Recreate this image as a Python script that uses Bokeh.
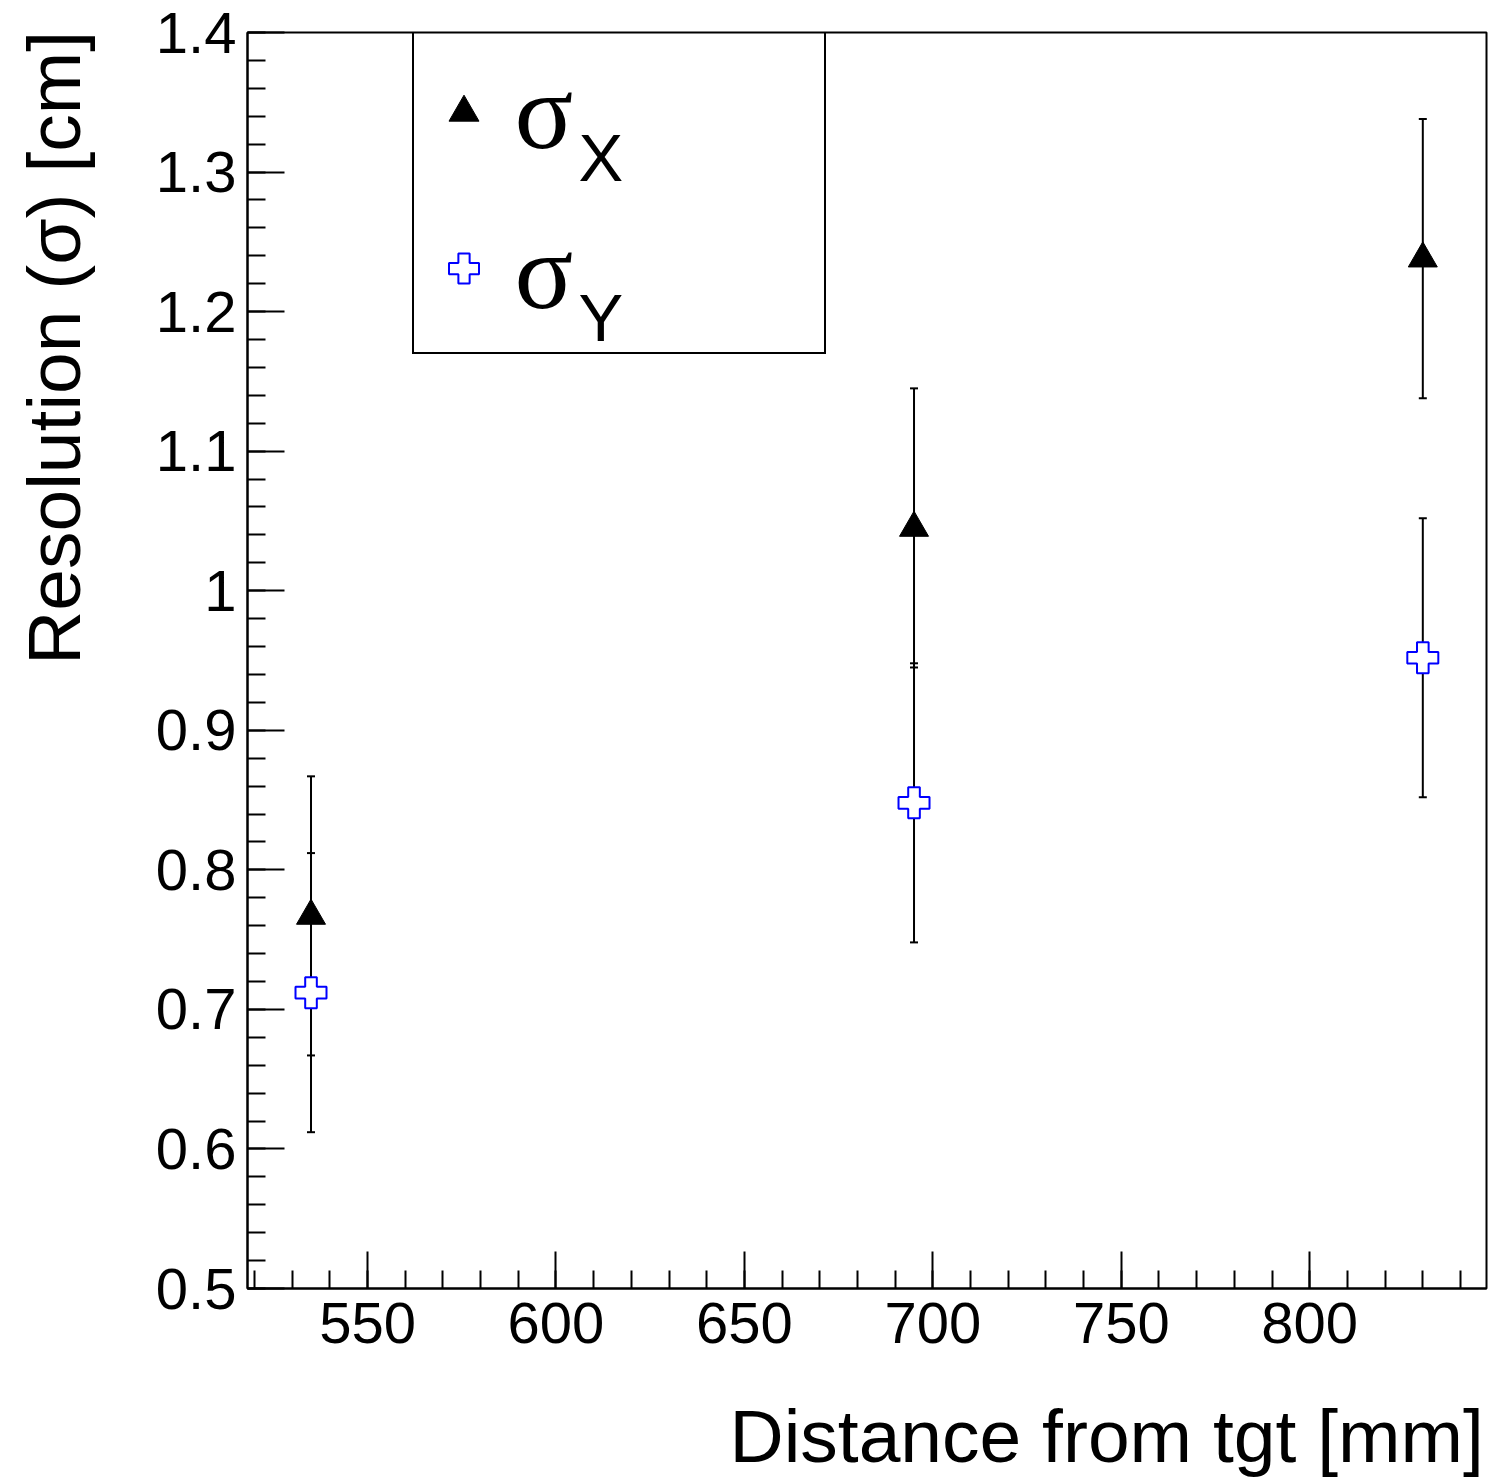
import math
from bokeh.plotting import figure
from bokeh.models import (Range1d, FixedTicker, CustomJSTickFormatter, Label,
                          Legend, LegendItem, ColumnDataSource)
from bokeh.embed import file_html
from bokeh.resources import INLINE

# ---- data ----
distance = [535, 695, 830]
sigma_x = [0.767, 1.045, 1.238]
sigma_x_err = [0.1, 0.1, 0.1]
sigma_y = [0.712, 0.848, 0.952]
sigma_y_err = [0.1, 0.1, 0.1]

x_major_ticks = [550, 600, 650, 700, 750, 800]
x_minor_ticks = list(range(520, 850, 10))
y_major_ticks = [0.5, 0.6, 0.7, 0.8, 0.9, 1.0, 1.1, 1.2, 1.3, 1.4]
y_minor_ticks = [round(0.5 + 0.02 * i, 2) for i in range(46)]

x_title = "Distance from tgt [mm]"
y_title = "Resolution (\u03c3) [cm]"
legend_names = ["X", "Y"]

# frame geometry (canvas pixels)
FL, FR, FT, FB = 247, 1486, 32, 1288
W, H = 1498, 1482

p = figure(width=W, height=H,
           x_range=Range1d(518.15, 846.9), y_range=Range1d(0.5, 1.4),
           output_backend="svg", toolbar_location=None,
           min_border_left=FL, min_border_right=W - FR,
           min_border_top=FT, min_border_bottom=H - FB)
p.grid.visible = False
p.background_fill_color = "white"
p.border_fill_color = "white"
p.outline_line_color = "black"
p.outline_line_width = 2
p.outline_line_alpha = 1

SANS = "Liberation Sans"
SERIF = "Liberation Serif"

for ax in (p.xaxis[0], p.yaxis[0]):
    ax.axis_line_width = 2
    ax.axis_line_color = "black"
    ax.major_tick_line_width = 2
    ax.minor_tick_line_width = 2
    ax.major_tick_line_color = "black"
    ax.minor_tick_line_color = "black"
    ax.major_tick_in = 37
    ax.major_tick_out = 0
    ax.minor_tick_in = 18
    ax.minor_tick_out = 0
    ax.major_label_text_font = SANS
    ax.major_label_text_font_size = "58px"
    ax.major_label_text_color = "black"

p.xaxis[0].ticker = FixedTicker(ticks=x_major_ticks, minor_ticks=x_minor_ticks)
p.yaxis[0].ticker = FixedTicker(ticks=y_major_ticks, minor_ticks=y_minor_ticks)
p.yaxis[0].formatter = CustomJSTickFormatter(
    code="const s = tick.toFixed(1); return s.endsWith('.0') ? s.slice(0, -2) : s;")
p.xaxis[0].major_label_standoff = 14
p.yaxis[0].major_label_standoff = 11

# ---- axis titles: centered labels, pushed toward the far end of each axis
# with leading no-break spaces (the titles sit at the end of the axes) ----
NBSP = "\u00a0"
for ax, txt, so, pad in ((p.xaxis[0], x_title, 48, 23),
                         (p.yaxis[0], y_title, 57, 30)):
    ax.axis_label = NBSP * pad + txt
    ax.axis_label_text_font = SANS
    ax.axis_label_text_font_size = "75px"
    ax.axis_label_text_font_style = "normal"
    ax.axis_label_text_color = "black"
    ax.axis_label_standoff = so

# ---- error bars ----
src_x = ColumnDataSource(dict(
    x=distance, y=sigma_x,
    lo=[v - e for v, e in zip(sigma_x, sigma_x_err)],
    hi=[v + e for v, e in zip(sigma_x, sigma_x_err)]))
src_y = ColumnDataSource(dict(
    x=distance, y=sigma_y,
    lo=[v - e for v, e in zip(sigma_y, sigma_y_err)],
    hi=[v + e for v, e in zip(sigma_y, sigma_y_err)]))

for src in (src_x, src_y):
    p.segment(x0="x", y0="lo", x1="x", y1="hi", source=src,
              line_color="black", line_width=2)
    p.scatter(x="x", y="lo", source=src, marker="dash", size=8,
              line_color="black", line_width=2)
    p.scatter(x="x", y="hi", source=src, marker="dash", size=8,
              line_color="black", line_width=2)

r_x = p.scatter(x="x", y="y", source=src_x, marker="triangle", size=29,
                fill_color="black", line_color="black", line_width=1)
r_y = p.scatter(x="x", y="y", source=src_y, marker="plus", size=31,
                fill_color="white", line_color="#0000ff", line_width=2)

# ---- legend box with markers (transparent background so texts show) ----
legend = Legend(items=[LegendItem(label=" ", renderers=[r_x]),
                       LegendItem(label=" ", renderers=[r_y])],
                location=(412 - FL, FB - 354),
                padding=12, spacing=12, margin=0,
                glyph_width=75, glyph_height=144,
                label_height=144, label_width=306, label_standoff=5,
                border_line_color="black", border_line_width=2,
                border_line_alpha=1.0,
                background_fill_alpha=0.0,
                label_text_font=SANS, label_text_font_size="20px")
p.add_layout(legend)


def lab(text, cx, baseline_y, font, size, align="left"):
    # Bokeh places the alphabetic anchor ~0.345 em below the glyph baseline
    cy = baseline_y - 0.345 * size
    p.add_layout(Label(x=cx - FL, y=FB - cy, x_units="screen", y_units="screen",
                       text=text, text_font=font, text_font_size=f"{size}px",
                       text_align=align, text_baseline="alphabetic",
                       text_color="black", level="overlay"))


# legend texts: sigma with subscript
lab("\u03c3", 514, 149, SERIF, 109)
lab(legend_names[0], 578, 180, SANS, 67)
lab("\u03c3", 514, 309, SERIF, 109)
lab(legend_names[1], 578, 340, SANS, 67)

open("out.html", "w").write(file_html(p, INLINE))
